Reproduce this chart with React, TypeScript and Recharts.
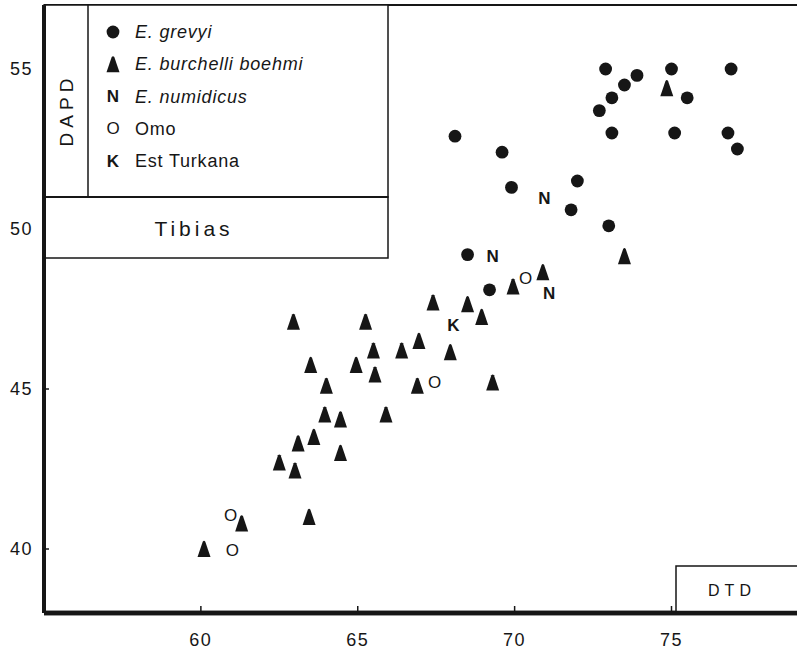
import { ScatterChart, Scatter, XAxis, YAxis, ReferenceLine } from "recharts";

// DTD (x) vs DAPD (y), tibias
const grevyi: [number, number][] = [
  [68.1, 52.9], [69.6, 52.4], [69.9, 51.3], [72.0, 51.5], [71.8, 50.6],
  [73.0, 50.1], [68.5, 49.2], [69.2, 48.1], [72.9, 55.0], [72.7, 53.7],
  [73.1, 54.1], [73.5, 54.5], [73.9, 54.8], [73.1, 53.0], [75.0, 55.0],
  [75.5, 54.1], [75.1, 53.0], [76.9, 55.0], [76.8, 53.0], [77.1, 52.5],
];

const boehmi: [number, number][] = [
  [60.1, 40.0], [61.3, 40.8], [63.45, 41.0], [62.5, 42.7], [63.0, 42.45],
  [63.1, 43.3], [63.6, 43.5], [64.45, 43.0], [63.95, 44.2], [64.45, 44.05],
  [65.9, 44.2], [64.0, 45.1], [66.9, 45.1], [69.3, 45.2], [63.5, 45.75],
  [64.95, 45.75], [65.55, 45.45], [65.5, 46.2], [66.4, 46.2], [67.95, 46.15],
  [66.95, 46.5], [62.95, 47.1], [65.25, 47.1], [67.4, 47.7], [68.5, 47.65],
  [68.95, 47.25], [69.95, 48.2], [70.9, 48.65], [73.5, 49.15], [74.85, 54.4],
];

const numidicus: [number, number][] = [[70.95, 50.95], [69.3, 49.15], [71.1, 48.0]];
const omo: [number, number][] = [[70.35, 48.45], [67.45, 45.2], [60.95, 41.05], [61.0, 39.95]];
const estTurkana: [number, number][] = [[68.05, 47.0]];

const xTicks = [60, 65, 70, 75];
const yTicks = [40, 45, 50, 55];

const toPoints = (arr: [number, number][]) => arr.map(([x, y]) => ({ x, y }));

const INK = "#161616";
const FONT = "'Liberation Sans', Arial, Helvetica, sans-serif";

const Dot = (p: any) => <circle cx={p.cx} cy={p.cy} r={6.4} fill={INK} />;

const Tri = (p: any) => {
  const { cx, cy } = p;
  return (
    <path
      d={`M${cx - 6.5},${cy + 8} L${cx - 1.3},${cy - 7.3} Q${cx},${cy - 9} ${cx + 1.3},${cy - 7.3} L${cx + 6.5},${cy + 8} Z`}
      fill={INK}
    />
  );
};

const letter = (ch: string, weight: number) => (p: any) => (
  <text
    x={p.cx}
    y={p.cy}
    textAnchor="middle"
    dominantBaseline="central"
    fontFamily={FONT}
    fontSize={17}
    fontWeight={weight}
    fill={INK}
  >
    {ch}
  </text>
);

const XTick = (p: any) => {
  const { x, y, payload } = p;
  return (
    <g>
      <line x1={x} x2={x} y1={y - 7} y2={y} stroke={INK} strokeWidth={1.5} />
      <text x={x} y={y + 27} textAnchor="middle" dominantBaseline="central" fontFamily={FONT} fontSize={18} fill={INK} letterSpacing={1.5}>
        {payload.value}
      </text>
    </g>
  );
};

const YTick = (p: any) => {
  const { x, y, payload } = p;
  return (
    <g>
      <line x1={x} x2={x + 5} y1={y} y2={y} stroke={INK} strokeWidth={1.5} />
      <text x={x - 11} y={y} textAnchor="end" dominantBaseline="central" fontFamily={FONT} fontSize={18} fill={INK} letterSpacing={1.5}>
        {payload.value}
      </text>
    </g>
  );
};

const legendRows = [
  { label: "E. grevyi", italic: true, sym: "dot" },
  { label: "E. burchelli boehmi", italic: true, sym: "tri" },
  { label: "E. numidicus", italic: true, sym: "N" },
  { label: "Omo", italic: false, sym: "O" },
  { label: "Est Turkana", italic: false, sym: "K" },
];

function Overlay() {
  return (
    <svg
      width={797}
      height={650}
      style={{ position: "absolute", left: 0, top: 0, pointerEvents: "none" }}
    >
      <rect x={44} y={5} width={344} height={192} fill="#fff" stroke={INK} strokeWidth={1.5} />
      <line x1={88} x2={88} y1={5} y2={197} stroke={INK} strokeWidth={1.5} />
      <rect x={44} y={197} width={344} height={61} fill="#fff" stroke={INK} strokeWidth={1.5} />
      <line x1={44} x2={388} y1={197} y2={197} stroke={INK} strokeWidth={2} />
      <line x1={44} x2={44} y1={5} y2={258} stroke={INK} strokeWidth={4} />
      <text
        x={0}
        y={0}
        transform="translate(73,110) rotate(-90)"
        textAnchor="middle"
        fontFamily={FONT}
        fontSize={19}
        letterSpacing={5}
        fill={INK}
      >
        DAPD
      </text>
      <text x={194} y={236} textAnchor="middle" fontFamily={FONT} fontSize={21} letterSpacing={4} fill={INK}>
        Tibias
      </text>
      {legendRows.map((r, i) => {
        const cy = 32 + i * 32.3;
        let sym;
        if (r.sym === "dot") sym = <Dot cx={113} cy={cy} />;
        else if (r.sym === "tri") sym = <Tri cx={113} cy={cy} />;
        else sym = letter(r.sym, r.sym === "O" ? 400 : 700)({ cx: 113, cy });
        return (
          <g key={r.label}>
            {sym}
            <text
              x={135}
              y={cy}
              dominantBaseline="central"
              fontFamily={FONT}
              fontSize={18}
              fontStyle={r.italic ? "italic" : "normal"}
              letterSpacing={0.8}
              fill={INK}
            >
              {r.label}
            </text>
          </g>
        );
      })}
      <rect x={676} y={566} width={130} height={47} fill="#fff" stroke={INK} strokeWidth={1.5} />
      <text x={732} y={590} textAnchor="middle" dominantBaseline="central" fontFamily={FONT} fontSize={16} letterSpacing={5} fill={INK}>
        DTD
      </text>
      <line x1={44} x2={797} y1={613} y2={613} stroke={INK} strokeWidth={4.5} />
    </svg>
  );
}

export default function App() {
  return (
    <div style={{ position: "absolute", left: 0, top: 0, width: 797, height: 650, background: "#fff" }}>
      <ScatterChart width={797} height={650} margin={{ top: 5, right: 0, left: 0, bottom: 0 }}>
        <XAxis
          type="number"
          dataKey="x"
          domain={[55, 79]}
          ticks={xTicks}
          height={37}
          axisLine={{ stroke: INK, strokeWidth: 4.5 }}
          tickLine={false}
          tickSize={0}
          tickMargin={0}
          tick={<XTick />}
          allowDataOverflow
        />
        <YAxis
          type="number"
          dataKey="y"
          domain={[38, 57]}
          ticks={yTicks}
          width={44}
          axisLine={{ stroke: INK, strokeWidth: 4 }}
          tickLine={false}
          tickSize={0}
          tickMargin={0}
          tick={<YTick />}
          allowDataOverflow
        />
        <ReferenceLine y={57} stroke={INK} strokeWidth={2} />
        <Scatter data={toPoints(grevyi)} shape={Dot} isAnimationActive={false} />
        <Scatter data={toPoints(boehmi)} shape={Tri} isAnimationActive={false} />
        <Scatter data={toPoints(numidicus)} shape={letter("N", 700)} isAnimationActive={false} />
        <Scatter data={toPoints(omo)} shape={letter("O", 400)} isAnimationActive={false} />
        <Scatter data={toPoints(estTurkana)} shape={letter("K", 700)} isAnimationActive={false} />
      </ScatterChart>
      <Overlay />
    </div>
  );
}
